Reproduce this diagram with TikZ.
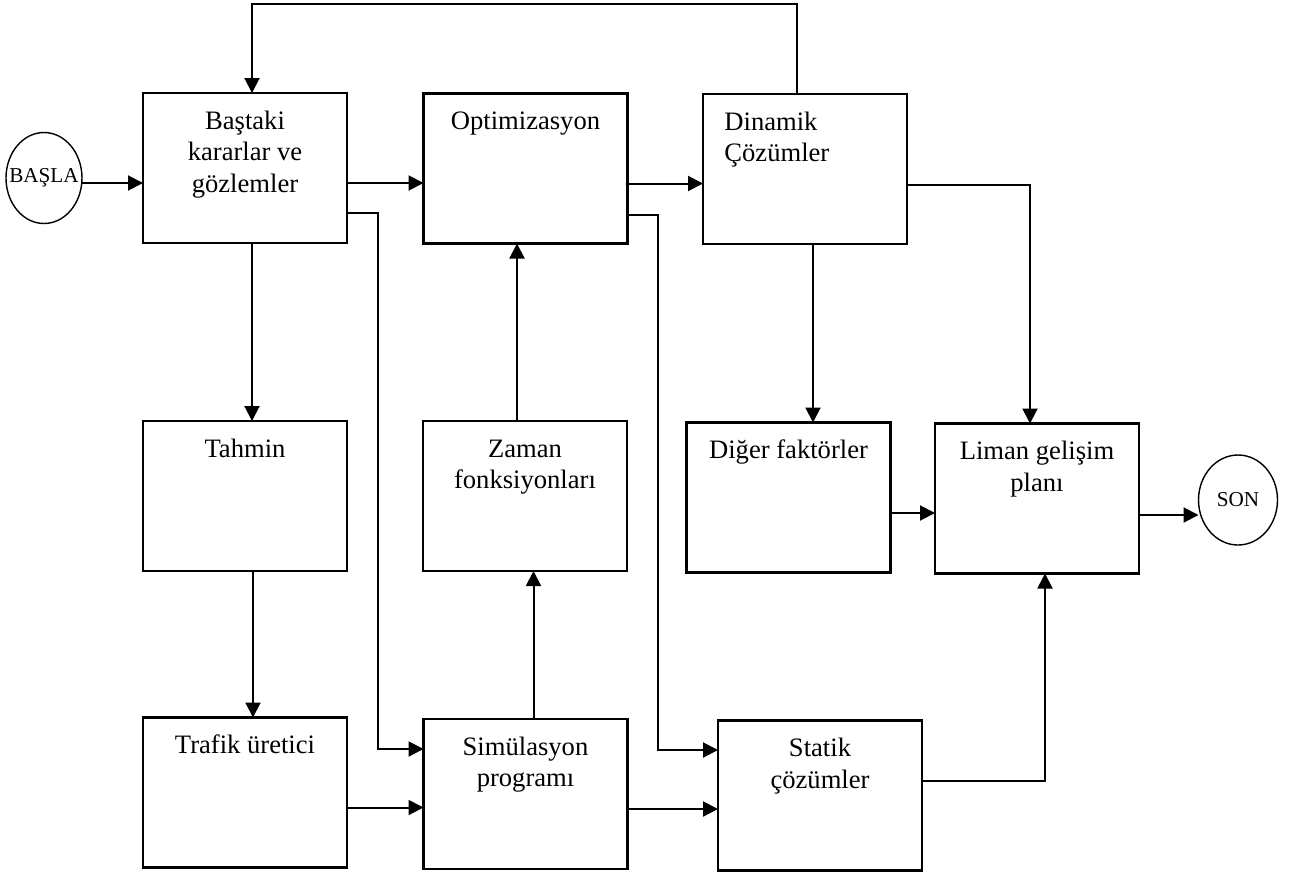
\documentclass[tikz,border=0pt]{standalone}
\usepackage{fontspec}
\setmainfont{Liberation Serif}
\usetikzlibrary{arrows.meta,shapes.geometric}
\begin{document}
\begin{tikzpicture}[x=0.5pt,y=-0.5pt,
  box/.style={draw, line width=1.3pt, minimum width=102pt, minimum height=75pt,
    inner sep=0pt, outer sep=0pt},
  txt/.style={anchor=north, yshift=-7pt, inner sep=0pt, align=center,
    font=\fontsize{13.3}{15.75}\selectfont},
  term/.style={draw, ellipse, line width=0.7pt, inner sep=0pt, outer sep=0pt},
  termtxt/.style={inner sep=0pt, font=\fontsize{10.6}{12}\selectfont},
  arr/.style={line width=1pt, -{Triangle[length=7.5pt,width=7.5pt]}}]

% page
\fill[white] (0,0) rectangle (1299,873);
\useasboundingbox (0,0) rectangle (1299,873);

% terminals
\node[term, minimum width=38pt, minimum height=45.5pt,
  label={[termtxt]center:BAŞLA}] (basla) at (44,178) {};
\node[term, minimum width=39.5pt, minimum height=45pt,
  label={[termtxt]center:SON}] (son) at (1238,500) {};

% process boxes
\node[box, label={[txt]north:\strut Baştaki\\kararlar ve\\gözlemler}] (bas) at (245,168) {};
\node[box, label={[txt]north:\strut Optimizasyon}] (opt) at (525.5,168.5) {};
\node[box, label={[txt, anchor=north west, xshift=10.5pt, align=left]north west:\strut Dinamik\\Çözümler}] (din) at (805,169) {};
\node[box, label={[txt]north:\strut Tahmin}] (tah) at (245,496) {};
\node[box, label={[txt]north:\strut Zaman\\fonksiyonları}] (zam) at (525,496) {};
\node[box, label={[txt]north:\strut Diğer faktörler}] (dig) at (788.5,497.5) {};
\node[box, label={[txt]north:\strut Liman gelişim\\planı}] (lim) at (1037,498.5) {};
\node[box, label={[txt]north:\strut Trafik üretici}] (tra) at (245,792.5) {};
\node[box, label={[txt]north:\strut Simülasyon\\programı}] (sim) at (525.5,794) {};
\node[box, label={[txt]north:\strut Statik\\çözümler}] (sta) at (820,795.5) {};

% top row
\coordinate (a1) at ([yshift=-7.5pt]bas.west);
\draw[arr] (basla.east |- a1) -- (a1);
\coordinate (a2) at ([yshift=-7.5pt]bas.east);
\draw[arr] (a2) -- (a2 -| opt.west);
\coordinate (a3) at ([yshift=-7.5pt]opt.east);
\draw[arr] (a3) -- (a3 -| din.west);

% feedback from the dynamic solutions to the initial decisions
\coordinate (f1) at ([xshift=-4pt]din.north);
\coordinate (f2) at ([xshift=3.5pt]bas.north);
\draw[arr] (f1) -- ++(0,-90) -| (f2);

% dynamic solutions to the port plan and other factors
\coordinate (a4) at ([yshift=-8pt]din.east);
\coordinate (a5) at ([xshift=-3.5pt]lim.north);
\draw[arr] (a4) -| (a5);
\coordinate (d1) at ([xshift=4pt]din.south);
\draw[arr] (d1) -- (d1 |- dig.north);

% left column
\coordinate (b2) at ([xshift=3.5pt]bas.south);
\draw[arr] (b2) -- (b2 |- tah.north);
\coordinate (h1) at ([xshift=4pt]tah.south);
\draw[arr] (h1) -- (h1 |- tra.north);

% long links down to the simulation and static solutions
\coordinate (b3) at ([yshift=-22.5pt]bas.east);
\coordinate (s1) at ([yshift=22.5pt]sim.west);
\draw[arr] (b3) -- ++(31,0) |- (s1);
\coordinate (o2) at ([yshift=-23pt]opt.east);
\coordinate (t1) at ([yshift=22.75pt]sta.west);
\draw[arr] (o2) -- ++(30,0) |- (t1);

% middle column, upwards
\coordinate (z1) at ([xshift=-4pt]zam.north);
\draw[arr] (z1) -- (z1 |- opt.south);
\coordinate (s2) at ([xshift=4pt]sim.north);
\draw[arr] (s2) -- (s2 |- zam.south);

% bottom row
\coordinate (r1) at ([yshift=-7.5pt]tra.east);
\draw[arr] (r1) -- (r1 -| sim.west);
\coordinate (s3) at ([yshift=-7.5pt]sim.east);
\draw[arr] (s3) -- (s3 -| sta.west);

% into the port development plan and out to the end
\coordinate (g1) at ([yshift=-7.75pt]dig.east);
\draw[arr] (g1) -- (g1 -| lim.west);
\coordinate (l1) at ([yshift=-8.25pt]lim.east);
\draw[arr] (l1) -- (l1 -| son.west);
\coordinate (t2) at ([yshift=7.25pt]sta.east);
\coordinate (l2) at ([xshift=4pt]lim.south);
\draw[arr] (t2) -| (l2);
\end{tikzpicture}
\end{document}
